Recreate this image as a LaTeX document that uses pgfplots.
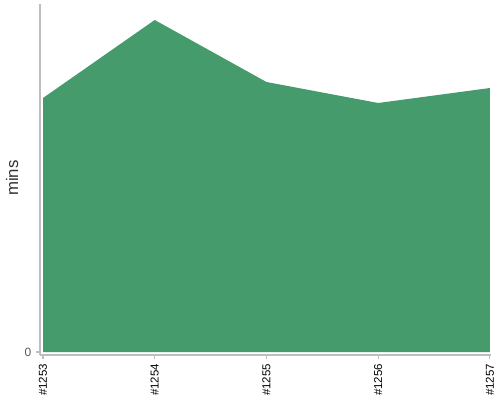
\documentclass[border=0pt]{standalone}
\usepackage{fontspec}
\setmainfont{Liberation Sans}
\usepackage{pgfplots}
\pgfplotsset{compat=1.18}
\definecolor{areagreen}{RGB}{69,155,108}
\definecolor{axgray}{RGB}{190,190,190}
\begin{document}
\begin{tikzpicture}[x=0.75pt,y=0.75pt]
\useasboundingbox (0,0) rectangle (500,400);
\begin{axis}[
  at={(30pt,33.75pt)}, anchor=south west,
  scale only axis, width=338.25pt, height=263.25pt,
  xmin=-0.027, xmax=4.01, ymin=-3, ymax=348,
  axis x line*=bottom, axis y line*=left,
  axis line style={axgray, line width=0.8pt, -},
  xtick={0,1,2,3,4},
  xticklabels={\#1253,\#1254,\#1255,\#1256,\#1257},
  xticklabel style={rotate=90, anchor=east, font=\fontsize{8.6}{9}\selectfont, black, inner sep=1pt, xshift=-2.5pt},
  ytick={0}, yticklabels={0},
  yticklabel style={font=\fontsize{9}{10}\selectfont, gray!70!black},
  tick style={axgray, line width=0.8pt},
  major tick length=3pt,
  tick align=outside,
  ylabel={mins},
  ylabel style={font=\fontsize{12.6}{14}\selectfont, black!80, at={(axis description cs:-0.062,0.504)}, anchor=center},
  clip=false,
]
\addplot[draw=none, fill=areagreen] coordinates {(0,254) (1,332) (2,270) (3,249) (4,264)} \closedcycle;
\end{axis}
\end{tikzpicture}
\end{document}
